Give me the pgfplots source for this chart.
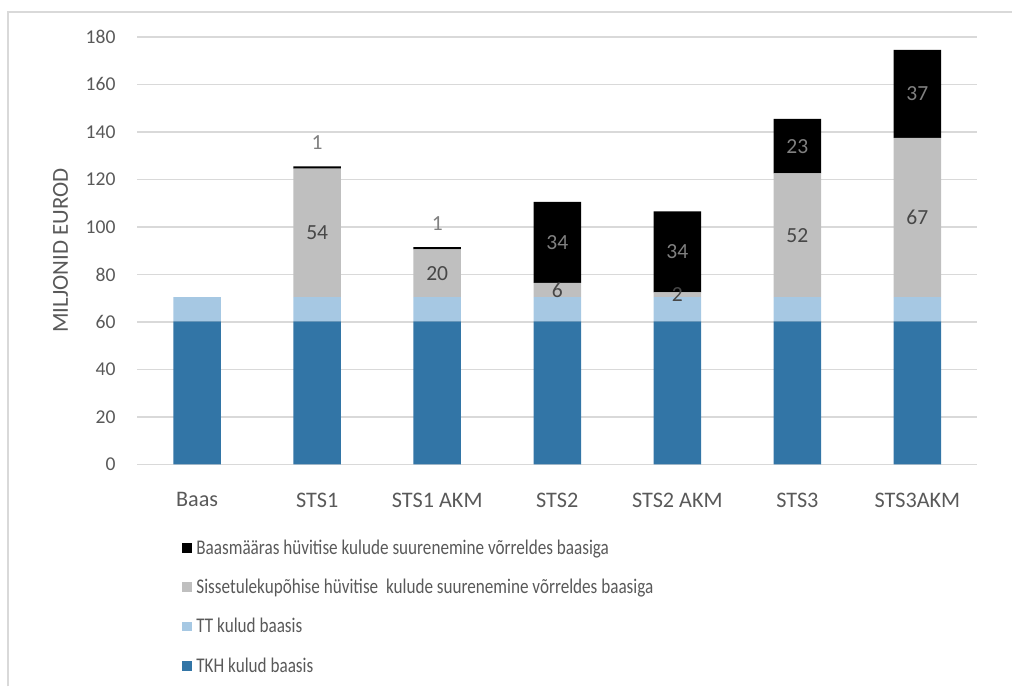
\documentclass[border=0pt]{standalone}
\usepackage{fontspec}
\setmainfont{Carlito}
\newfontfamily\legfont[FakeStretch=0.82]{Carlito}
\usepackage{pgfplots}
\usepackage{pgfplotstable}
\pgfplotsset{compat=1.18}

\definecolor{tkh}{RGB}{50,117,166}
\definecolor{tt}{RGB}{166,200,227}
\definecolor{sis}{RGB}{191,191,191}
\definecolor{txt}{RGB}{89,89,89}
\definecolor{gridc}{RGB}{217,217,217}

% x: category index, v: value, off: label offset from segment middle (y units)
\pgfplotstableread{
x v off
0 60.2 0
1 60.2 0
2 60.2 0
3 60.2 0
4 60.2 0
5 60.2 0
6 60.2 0
}\tkhdata
\pgfplotstableread{
x v off
0 10.3 0
1 10.3 0
2 10.3 0
3 10.3 0
4 10.3 0
5 10.3 0
6 10.3 0
}\ttdata
\pgfplotstableread{
x v off
0 0 0
1 54 0
2 20 0
3 6 0
4 2 0
5 52 0
6 67 0
}\sisdata
\pgfplotstableread{
x v off
0 0 0
1 1 10.5
2 1 10.5
3 34 0
4 34 0
5 23 0
6 37 0
}\baasdata

\begin{document}
\begin{tikzpicture}
\begin{axis}[
  scale only axis,
  width=643.5pt, height=327.45pt,
  ybar stacked, bar width=36.4pt,
  xmin=-0.5, xmax=6.5,
  ymin=0, ymax=180,
  ytick={0,20,...,180},
  xtick=data,
  xticklabels={Baas,STS1,STS1 AKM,STS2,STS2 AKM,STS3,STS3AKM},
  ymajorgrids, grid style={gridc, line width=1.3pt},
  axis line style={draw=none},
  major tick style={draw=none},
  font=\fontsize{15}{18}\selectfont,
  tick label style={text=txt},
  /pgf/number format/assume math mode=true,
  yticklabel style={xshift=-13pt},
  xticklabel style={yshift=-18pt, font=\fontsize{17}{20}\selectfont},
  ylabel={MILJONID EUROD},
  every axis y label/.style={at={(axis description cs:-0.091,0.5)}, rotate=90, anchor=center, text=txt, font=\fontsize{17.5}{20}\selectfont},
  legend image code/.code={\fill[#1] (0pt,-3.75pt) rectangle (7.5pt,3.75pt); \path (9pt,0pt);},
  reverse legend,
  legend cell align=left,
  legend style={at={(axis description cs:0.0485,-0.163)}, anchor=north west,
    draw=none, fill=none, text=txt, row sep=13.5pt,
    font=\legfont\fontsize{16}{18}\selectfont},
  visualization depends on={\thisrow{off} \as \off},
  nodes near coords={\pgfmathfloatifflags{\pgfplotspointmeta}{0}{}{\pgfmathprintnumber{\pgfplotspointmeta}}},
  every node near coord/.append style={anchor=center, yshift=\off*1.81917pt, font=\fontsize{16.5}{19}\selectfont},
]
\addplot[fill=tkh, draw=none, nodes near coords={}] table[x=x, y=v] {\tkhdata};
\addplot[fill=tt, draw=none, nodes near coords={}] table[x=x, y=v] {\ttdata};
\addplot[fill=sis, draw=none, point meta=\thisrow{v},
  every node near coord/.append style={text=black!72}] table[x=x, y=v] {\sisdata};
\addplot[fill=black, draw=none, point meta=\thisrow{v},
  every node near coord/.append style={text=black!50}] table[x=x, y=v] {\baasdata};
\legend{TKH kulud baasis, TT kulud baasis, Sissetulekupõhise hüvitise\ \ kulude suurenemine võrreldes baasiga, Baasmääras hüvitise kulude suurenemine võrreldes baasiga}
\end{axis}
\draw[gridc, line width=1.5pt] (-99pt,-170pt) -- (-99pt,346.7pt) -- (670pt,346.7pt);
\path[use as bounding box] (-105pt,-160.3pt) rectangle (654.75pt,355.7pt);
\end{tikzpicture}
\end{document}
